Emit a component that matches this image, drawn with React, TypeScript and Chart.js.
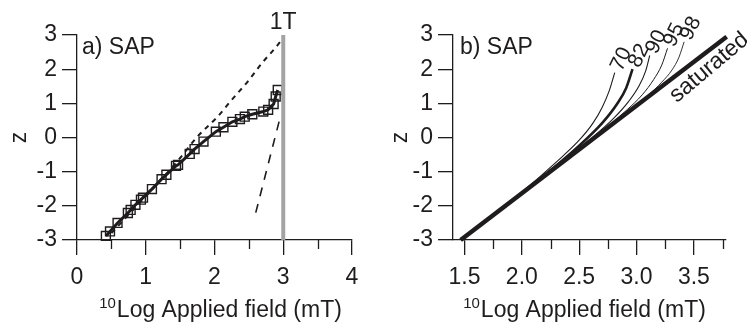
import React, { useEffect, useRef } from 'react';
import { Chart, registerables } from 'chart.js';

Chart.register(...registerables);

const INK = '#1e1c1d';
const GRAY = '#a3a3a3';
const FONT = '"Liberation Sans", Arial, Helvetica, sans-serif';

// ---------- Panel a ----------
const aSquareX = [0.42, 0.48, 0.59, 0.74, 0.78, 0.85, 0.93, 0.96, 1.09, 1.23, 1.3, 1.44, 1.47, 1.64, 1.71, 1.84, 2.02, 2.13, 2.26, 2.37, 2.44, 2.55, 2.71, 2.78, 2.86, 2.89, 2.92];
const aSquareZ = [-2.88, -2.75, -2.5, -2.21, -2.12, -1.97, -1.82, -1.76, -1.51, -1.22, -1.09, -0.83, -0.8, -0.48, -0.34, -0.12, 0.17, 0.3, 0.46, 0.54, 0.61, 0.68, 0.76, 0.81, 0.98, 1.2, 1.39];
const aShortDashX = [0.5, 1.0, 1.5, 1.74, 2.04, 2.25, 2.48, 2.7, 2.9, 3.0];
const aShortDashZ = [-2.8, -1.72, -0.6, 0.0, 0.6, 1.1, 1.63, 2.2, 2.66, 2.92];
const aLongDashX = [2.6, 2.95];
const aLongDashZ = [-2.2, 0.55];
const aOneTeslaX = [3, 3];
const aOneTeslaZ = [-3, 3];
const aXTicks = [0, 1, 2, 3, 4];
const aXMinorTicks = [0.5, 1.5, 2.5, 3.5];
const aYTicks = [-3, -2, -1, 0, 1, 2, 3];

// ---------- Panel b ----------
const bSaturatedX = [1.467, 3.786];
const bSaturatedZ = [-3, 2.95];
const bCurveLabels = ['70', '82', '90', '95', '98'];
const bCurve70X = [1.47, 2.0, 2.3, 2.5, 2.62, 2.7, 2.76, 2.81];
const bCurve70Z = [-3, -1.6, -0.72, -0.08, 0.42, 0.88, 1.35, 1.9];
const bCurve82X = [1.47, 2.2, 2.5, 2.7, 2.83, 2.91, 2.965];
const bCurve82Z = [-3, -1.1, -0.24, 0.42, 0.98, 1.45, 2.0];
const bCurve90X = [1.47, 2.3, 2.6, 2.8, 2.93, 3.02, 3.08, 3.115];
const bCurve90Z = [-3, -0.84, -0.04, 0.56, 1.05, 1.5, 1.95, 2.4];
const bCurve95X = [1.47, 2.5, 2.75, 2.92, 3.05, 3.15, 3.22, 3.27];
const bCurve95Z = [-3, -0.33, 0.33, 0.82, 1.25, 1.7, 2.12, 2.61];
const bCurve98X = [1.47, 2.7, 2.95, 3.1, 3.22, 3.31, 3.37, 3.415];
const bCurve98Z = [-3, 0.17, 0.82, 1.23, 1.62, 1.98, 2.35, 2.8];
const bXTicks = [1.5, 2.0, 2.5, 3.0, 3.5];
const bXMinorTicks = [1.75, 2.25, 2.75, 3.25, 3.75];
const bYTicks = [-3, -2, -1, 0, 1, 2, 3];

const pts = (xs: number[], zs: number[]) => xs.map((x, i) => ({ x, y: zs[i] }));

function drawTitle(ctx: CanvasRenderingContext2D, cx: number, baseline: number) {
  ctx.save();
  ctx.fillStyle = INK;
  ctx.textBaseline = 'alphabetic';
  ctx.textAlign = 'left';
  ctx.font = `15px ${FONT}`;
  const sup = '10';
  const w1 = ctx.measureText(sup).width + 1;
  ctx.font = `23px ${FONT}`;
  const main = 'Log Applied field (mT)';
  const w2 = ctx.measureText(main).width;
  const x0 = cx - (w1 + w2) / 2;
  ctx.font = `15px ${FONT}`;
  ctx.fillText(sup, x0, baseline - 9);
  ctx.font = `23px ${FONT}`;
  ctx.fillText(main, x0 + w1, baseline);
  ctx.restore();
}

function drawZ(ctx: CanvasRenderingContext2D, x: number, y: number) {
  ctx.save();
  ctx.translate(x, y);
  ctx.rotate(-Math.PI / 2);
  ctx.fillStyle = INK;
  ctx.font = `23px ${FONT}`;
  ctx.textAlign = 'center';
  ctx.textBaseline = 'middle';
  ctx.fillText('z', 0, 0);
  ctx.restore();
}

function minorTicks(chart: any, values: number[]) {
  const sx = chart.scales.x;
  const ctx = chart.ctx;
  ctx.save();
  ctx.strokeStyle = INK;
  ctx.lineWidth = 1.3;
  values.forEach((v) => {
    const px = Math.round(sx.getPixelForValue(v)) + 0.5;
    ctx.beginPath();
    ctx.moveTo(px, sx.top);
    ctx.lineTo(px, sx.top + 9);
    ctx.stroke();
  });
  ctx.restore();
}

function axisOptions(min: number, max: number, ticks: number[], yWidth: number, fmt: (v: number) => string, isX: boolean) {
  return {
    type: 'linear' as const,
    min,
    max,
    position: isX ? ('bottom' as const) : ('left' as const),
    afterFit: (scale: any) => {
      if (isX) scale.height = 84;
      else scale.width = yWidth;
    },
    afterBuildTicks: (scale: any) => {
      scale.ticks = ticks.map((v) => ({ value: v }));
    },
    ticks: {
      color: INK,
      font: { family: FONT, size: 23 },
      padding: isX ? 9 : 5,
      autoSkip: false,
      maxRotation: 0,
      callback: (v: any) => fmt(Number(v)),
    },
    grid: {
      drawOnChartArea: false,
      drawTicks: true,
      tickLength: 15,
      color: INK,
      lineWidth: 1.3,
    },
    border: { display: true, color: INK, width: 1.3 },
  };
}

function PanelA() {
  const ref = useRef<HTMLCanvasElement>(null);
  useEffect(() => {
    if (!ref.current) return;
    const textPlugin = {
      id: 'aTexts',
      afterDraw(chart: any) {
        const ctx = chart.ctx;
        const area = chart.chartArea;
        const sx = chart.scales.x;
        minorTicks(chart, aXMinorTicks);
        ctx.save();
        ctx.fillStyle = INK;
        ctx.font = `23px ${FONT}`;
        ctx.textBaseline = 'alphabetic';
        ctx.textAlign = 'left';
        ctx.fillText('a) SAP', area.left + 5, area.top + 19);
        ctx.textAlign = 'center';
        ctx.fillText('1T', sx.getPixelForValue(3), area.top - 6);
        ctx.restore();
        drawTitle(ctx, (area.left + area.right) / 2 + 6, 317);
        drawZ(ctx, 20, (area.top + area.bottom) / 2);
      },
    };
    const chart = new Chart(ref.current, {
      type: 'scatter',
      data: {
        datasets: [
          {
            data: pts(aOneTeslaX, aOneTeslaZ),
            showLine: true,
            borderColor: GRAY,
            borderWidth: 4,
            pointRadius: 0,
            clip: false as any,
          },
          {
            data: pts(aSquareX, aSquareZ),
            showLine: true,
            borderColor: INK,
            borderWidth: 3,
            pointStyle: 'rect',
            pointRadius: 6.3,
            pointBorderWidth: 1.4,
            pointBorderColor: INK,
            pointBackgroundColor: 'rgba(0,0,0,0)',
            clip: false as any,
          },
          {
            data: pts(aShortDashX, aShortDashZ),
            showLine: true,
            borderColor: INK,
            borderWidth: 2,
            borderDash: [5, 5],
            cubicInterpolationMode: 'monotone',
            pointRadius: 0,
            clip: false as any,
          },
          {
            data: pts(aLongDashX, aLongDashZ),
            showLine: true,
            borderColor: INK,
            borderWidth: 1.6,
            borderDash: [9, 8],
            pointRadius: 0,
            clip: false as any,
          },
        ],
      },
      options: {
        responsive: false,
        animation: false,
        devicePixelRatio: 1,
        layout: { padding: { top: 35, right: 22, left: 0, bottom: 0 } },
        plugins: { legend: { display: false }, tooltip: { enabled: false }, title: { display: false } },
        scales: {
          x: axisOptions(0, 4, aXTicks, 77, (v) => String(v), true),
          y: axisOptions(-3, 3, aYTicks, 77, (v) => String(v), false),
        },
      } as any,
      plugins: [textPlugin],
    });
    return () => chart.destroy();
  }, []);
  return <canvas ref={ref} width={374} height={324} style={{ position: 'absolute', left: 0, top: 0, width: 374, height: 324 }} />;
}

function PanelB() {
  const ref = useRef<HTMLCanvasElement>(null);
  useEffect(() => {
    if (!ref.current) return;
    const curves = [
      { x: bCurve70X, z: bCurve70Z, w: 1.1 },
      { x: bCurve82X, z: bCurve82Z, w: 2.6 },
      { x: bCurve90X, z: bCurve90Z, w: 1.1 },
      { x: bCurve95X, z: bCurve95Z, w: 1.0 },
      { x: bCurve98X, z: bCurve98Z, w: 0.9 },
    ];
    const textPlugin = {
      id: 'bTexts',
      afterDraw(chart: any) {
        const ctx = chart.ctx;
        const area = chart.chartArea;
        const sx = chart.scales.x;
        const sy = chart.scales.y;
        minorTicks(chart, bXMinorTicks);
        ctx.save();
        ctx.fillStyle = INK;
        ctx.font = `23px ${FONT}`;
        ctx.textBaseline = 'alphabetic';
        ctx.textAlign = 'left';
        ctx.fillText('b) SAP', area.left + 7, area.top + 19);
        ctx.restore();
        // curve labels
        const ang = -64 * Math.PI / 180;
        curves.forEach((c, i) => {
          const n = c.x.length - 1;
          const px = sx.getPixelForValue(c.x[n]);
          const py = sy.getPixelForValue(c.z[n]);
          ctx.save();
          ctx.translate(px + Math.cos(ang) * 15, py + Math.sin(ang) * 15);
          ctx.rotate(ang);
          ctx.fillStyle = INK;
          ctx.font = `21px ${FONT}`;
          ctx.textAlign = 'center';
          ctx.textBaseline = 'middle';
          ctx.fillText(bCurveLabels[i], 0, 0);
          ctx.restore();
        });
        // saturated label (below the line)
        ctx.save();
        ctx.translate(sx.getPixelForValue(3.35), sy.getPixelForValue(1.0));
        ctx.rotate(-40 * Math.PI / 180);
        ctx.fillStyle = INK;
        ctx.font = `23px ${FONT}`;
        ctx.textAlign = 'left';
        ctx.textBaseline = 'alphabetic';
        ctx.fillText('saturated', 0, 0);
        ctx.restore();
        drawTitle(ctx, (area.left + area.right) / 2 - 5, 317);
        drawZ(ctx, 26.5, (area.top + area.bottom) / 2);
      },
    };
    const chart = new Chart(ref.current, {
      type: 'scatter',
      data: {
        datasets: [
          {
            data: pts(bSaturatedX, bSaturatedZ),
            showLine: true,
            borderColor: INK,
            borderWidth: 4.5,
            pointRadius: 0,
            clip: false as any,
          },
          ...curves.map((c) => ({
            data: pts(c.x, c.z),
            showLine: true,
            borderColor: INK,
            borderWidth: c.w,
            cubicInterpolationMode: 'monotone' as const,
            pointRadius: 0,
            clip: false as any,
          })),
        ],
      },
      options: {
        responsive: false,
        animation: false,
        devicePixelRatio: 1,
        layout: { padding: { top: 35, right: 21, left: 0, bottom: 0 } },
        plugins: { legend: { display: false }, tooltip: { enabled: false }, title: { display: false } },
        scales: {
          x: axisOptions(1.4, 3.78, bXTicks, 79, (v) => v.toFixed(1), true),
          y: axisOptions(-3, 3, bYTicks, 79, (v) => String(v), false),
        },
      } as any,
      plugins: [textPlugin],
    });
    return () => chart.destroy();
  }, []);
  return <canvas ref={ref} width={373} height={324} style={{ position: 'absolute', left: 374, top: 0, width: 373, height: 324 }} />;
}

export default function App() {
  return (
    <div style={{ position: 'absolute', left: 0, top: 0, width: 747, height: 324, background: '#fff', overflow: 'hidden' }}>
      <PanelA />
      <PanelB />
    </div>
  );
}
